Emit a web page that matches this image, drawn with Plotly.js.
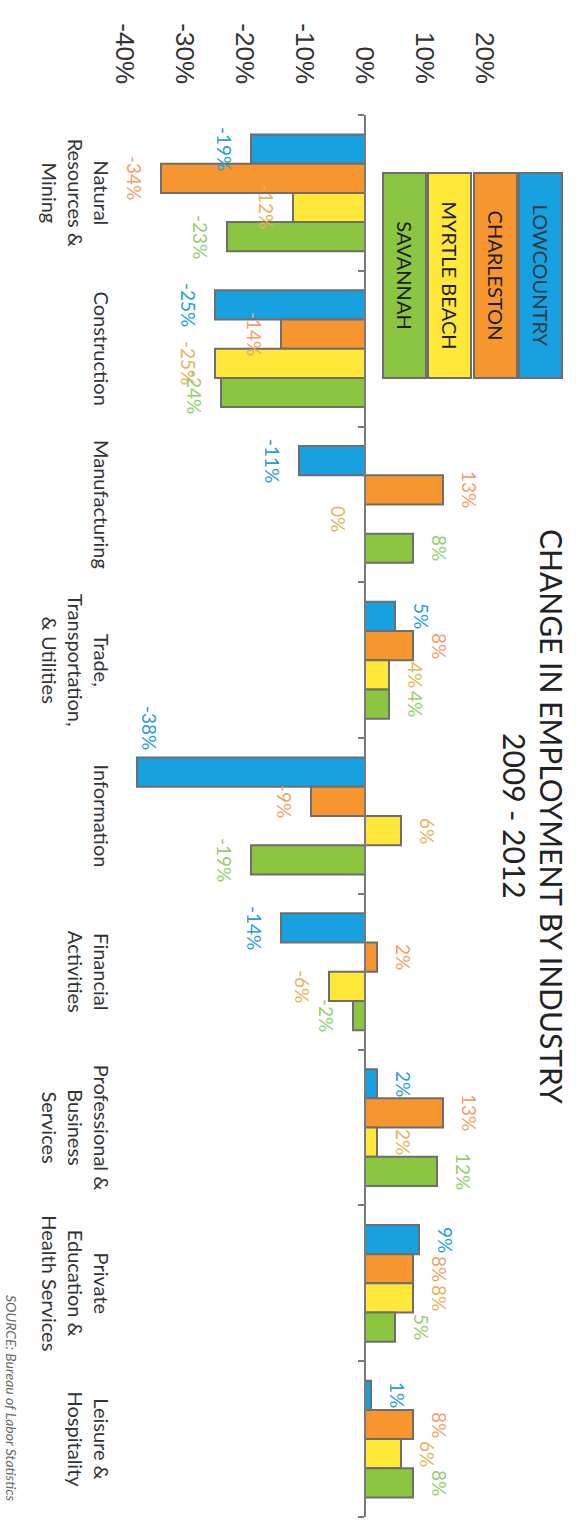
<!DOCTYPE html>
<html>
<head>
<meta charset="utf-8">
<script src="https://cdn.plot.ly/plotly-3.0.1.min.js"></script>
<style>
  html, body { margin: 0; padding: 0; width: 581px; height: 1521px; overflow: hidden; background: #ffffff; }
  /* the chart is laid out landscape and turned a quarter clockwise onto the tall page */
  #chart { position: absolute; left: 0; top: 0; width: 1521px; height: 581px;
           transform-origin: 0 0; transform: translate(581px, 0) rotate(90deg); }
</style>
</head>
<body>
<div id="chart"></div>
<script>
// ---- data: percent change in employment, 2009 - 2012 ----
const industries = [
  'Natural<br>Resources &<br>Mining',
  'Construction',
  'Manufacturing',
  'Trade,<br>Transportation,<br>& Utilities',
  'Information',
  'Financial<br>Activities',
  'Professional &<br>Business<br>Services',
  'Private<br>Education &<br>Health Services',
  'Leisure &<br>Hospitality'
];
const regionNames = ['LOWCOUNTRY', 'CHARLESTON', 'MYRTLE BEACH', 'SAVANNAH'];
const lowcountry  = [-19, -25, -11, 5, -38, -14, 2, 9, 1];
const charleston  = [-34, -14, 13, 8, -9, 2, 13, 8, 8];
const myrtleBeach = [-12, -25, 0, 4, 6, -6, 2, 8, 6];
const savannah    = [-23, -24, 8, 4, -19, -2, 12, 5, 8];
const valueTicks  = [-40, -30, -20, -10, 0, 10, 20];
const valueTickText = ['-40%', '-30%', '-20%', '-10%', '0%', '10%', '20%'];
const titleText = 'CHANGE IN EMPLOYMENT BY INDUSTRY';
const subtitleText = '2009 - 2012';
const sourceNote = 'SOURCE: Bureau of Labor Statistics';

// ---- styling ----
const barColors   = ['#17a1e0', '#f7962f', '#ffe83a', '#8cc540'];
const labelColors = ['#2a9ed8', '#f4a06c', '#e6b45a', '#94cf70'];
const legendText  = ['#2c3a4a', '#1e1e1e', '#1e1e1e', '#1e1e1e'];
const edge = '#6e6e6e';
const FONT = 'Lato, "Open Sans", sans-serif';

const W = 1521, H = 581;
const M = { l: 115, r: 4, t: 96, b: 125 };
const plotW = W - M.l - M.r, plotH = H - M.t - M.b;
const yRange = [-40, 20];
const pxPerUnit = plotH / (yRange[1] - yRange[0]);
const bargap = 0.25;

const series = [lowcountry, charleston, myrtleBeach, savannah];

const traces = series.map((vals, i) => ({
  type: 'bar',
  name: regionNames[i],
  x: industries,
  y: vals,
  marker: { color: barColors[i], line: { color: edge, width: 2 } },
  hoverinfo: 'skip',
  showlegend: false
}));

// value labels beyond the end of each bar; a label whose centre would fall
// past the bottom of the value range sits alongside its bar instead
const slot = (plotW / industries.length) * (1 - bargap) / series.length;
const labelGap = 13;
const labelCentre = 27;
const annotations = [];
series.forEach((vals, i) => {
  vals.forEach((v, k) => {
    const up = v > 0;
    const shift = (i - (series.length - 1) / 2) * slot;
    const ann = {
      xref: 'x', yref: 'y', x: industries[k], y: v,
      text: v + '%', showarrow: false,
      font: { family: FONT, size: 19, color: labelColors[i] }
    };
    const overflow = !up && (v - labelCentre / pxPerUnit) < yRange[0];
    if (overflow) {
      Object.assign(ann, { xshift: shift - 1.5 * slot, yshift: labelGap, yanchor: 'middle' });
    } else {
      Object.assign(ann, { xshift: shift, yshift: up ? labelGap : -labelGap, yanchor: up ? 'bottom' : 'top' });
    }
    annotations.push(ann);
  });
});

// pixel helpers for items placed on the page
const px2x = p => (p - M.l) / plotW;
const px2y = p => (H - M.b - p) / plotH;

// chart title, two centred lines
annotations.push({
  xref: 'paper', yref: 'paper', x: 0.5, xanchor: 'center',
  y: px2y(29), yanchor: 'middle', text: titleText, showarrow: false,
  font: { family: FONT, size: 30, color: '#222222' }
});
annotations.push({
  xref: 'paper', yref: 'paper', x: 0.5, xanchor: 'center',
  y: px2y(66), yanchor: 'middle', text: subtitleText, showarrow: false,
  font: { family: FONT, size: 30, color: '#222222' }
});

// colour-box legend
regionNames.forEach((name, i) => {
  annotations.push({
    xref: 'paper', yref: 'paper',
    x: px2x(172), xanchor: 'left',
    y: px2y(18 + i * 45.3), yanchor: 'top',
    width: 201, height: 39, borderpad: 1,
    bgcolor: barColors[i], bordercolor: edge, borderwidth: 2,
    align: 'center', valign: 'middle',
    text: name, showarrow: false,
    font: { family: FONT, size: 20, color: legendText[i] }
  });
});

annotations.push({
  xref: 'paper', yref: 'paper',
  x: px2x(1504), xanchor: 'right',
  y: px2y(569), yanchor: 'middle',
  text: sourceNote, showarrow: false,
  font: { family: FONT, size: 14, color: '#6a6a6a', style: 'italic' }
});

const layout = {
  width: W, height: H,
  margin: M,
  paper_bgcolor: '#ffffff', plot_bgcolor: 'rgba(0,0,0,0)',
  barmode: 'group', bargap: bargap, bargroupgap: 0,
  xaxis: {
    type: 'category',
    range: [-0.5, industries.length - 0.5],
    anchor: 'free',
    position: (0 - yRange[0]) / (yRange[1] - yRange[0]),
    showline: true, linecolor: '#7a7a7a', linewidth: 2,
    ticks: 'outside', tickson: 'boundaries', ticklen: 6, tickwidth: 2, tickcolor: '#7a7a7a',
    tickangle: 0,
    ticklabelstandoff: 246,
    tickfont: { family: FONT, size: 20, color: '#333333' },
    showgrid: false, zeroline: false, fixedrange: true
  },
  yaxis: {
    range: yRange,
    tickvals: valueTicks, ticktext: valueTickText,
    ticks: '', ticklabelstandoff: 30,
    tickfont: { family: '"Liberation Sans", Arial, sans-serif', size: 26, color: '#333333' },
    showgrid: false, zeroline: false, showline: false, fixedrange: true
  },
  annotations: annotations
};

Plotly.newPlot('chart', traces, layout, { displayModeBar: false, responsive: false, staticPlot: true });
</script>
</body>
</html>
